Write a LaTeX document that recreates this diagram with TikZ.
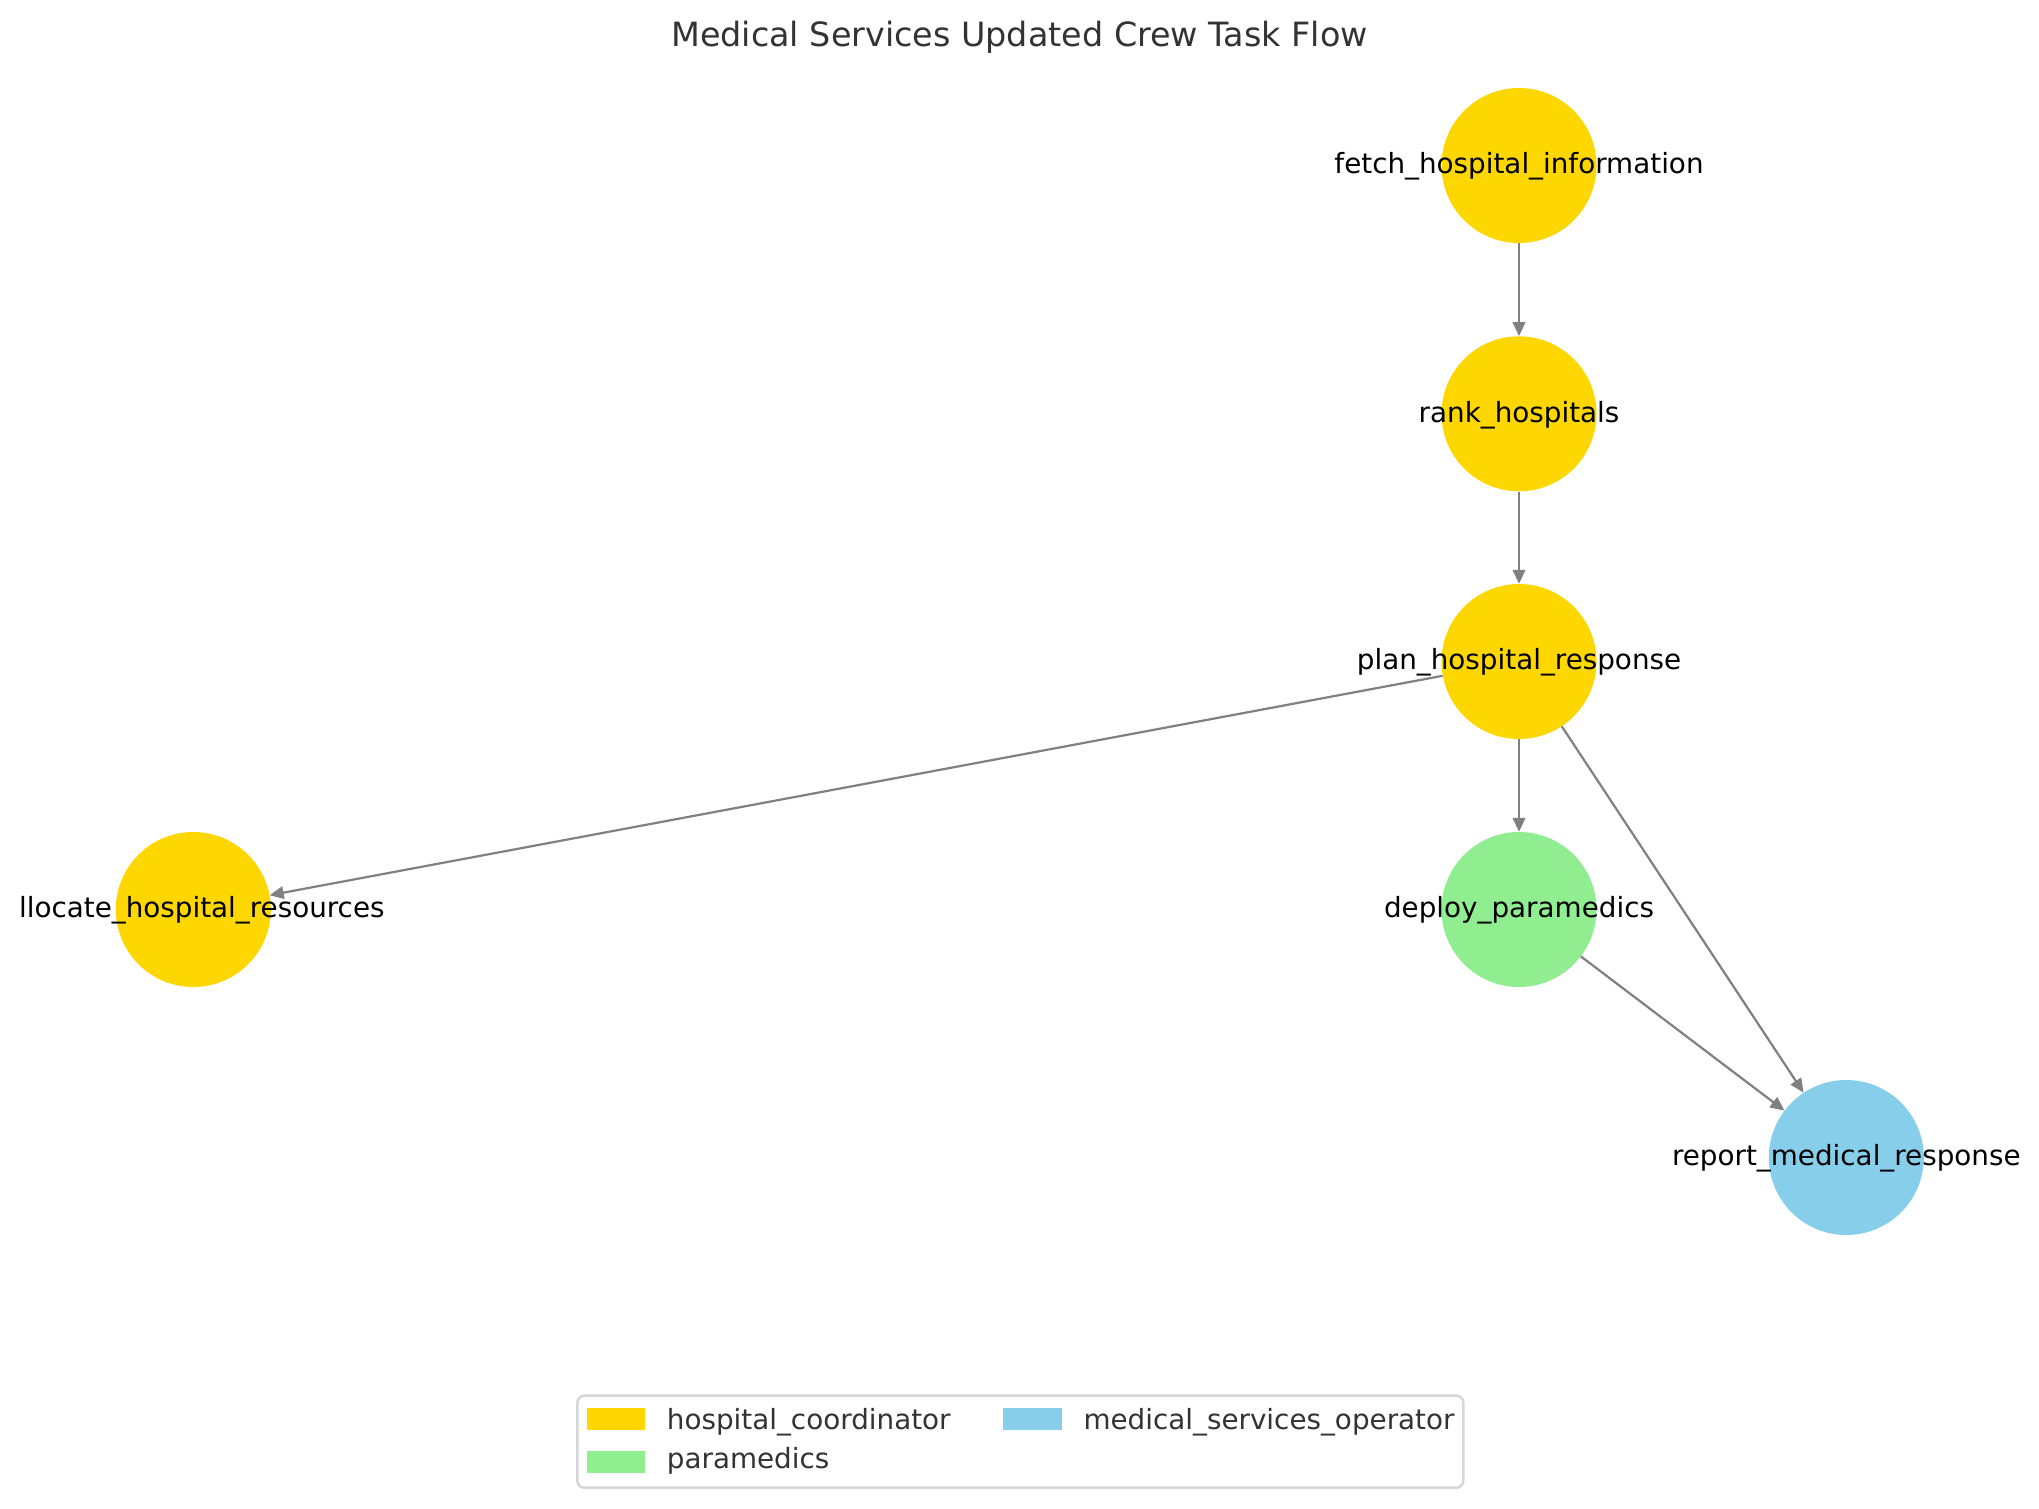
\documentclass[tikz,border=0pt]{standalone}
\usepackage{fontspec}
\setmainfont{DejaVu Sans}
\usetikzlibrary{arrows.meta}
\definecolor{gold}{HTML}{FFD700}
\definecolor{lgreen}{HTML}{90EE90}
\definecolor{skyb}{HTML}{87CEEB}
\definecolor{edgegray}{HTML}{808080}
\definecolor{txtgray}{HTML}{333333}
\definecolor{framegray}{HTML}{D6D6D6}
\begin{document}
\begin{tikzpicture}[x=1pt,y=-1pt,
  task/.style={circle, minimum size=155pt, inner sep=0pt, draw=none},
  lbl/.style={anchor=base, font=\fontsize{27.8}{33}\selectfont, text=black, inner sep=0pt},
  edge/.style={draw=edgegray, line width=2.2pt, -{Triangle[length=14pt,width=12.5pt]}},
  leg/.style={anchor=base west, font=\fontsize{27.8}{33}\selectfont, text=txtgray, inner sep=0pt},
  patch/.style={inner sep=0pt, minimum width=58.3pt, minimum height=22pt, draw=none}]
\useasboundingbox (0,0) rectangle (2039,1508);
\fill[white] (0,0) rectangle (2039,1508);
% title
\node[anchor=base, font=\fontsize{33.4}{40}\selectfont, text=txtgray, inner sep=0pt] (title) at (1019.5,46) {Medical Services Updated Crew Task Flow};
% task nodes
\node[task, fill=gold] (fetch) at (1519,165.5) {};
\node[task, fill=gold] (rank) at (1519,413.8) {};
\node[task, fill=gold] (plan) at (1519,661.5) {};
\node[task, fill=gold] (alloc) at (193.3,909.5) {};
\node[task, fill=lgreen] (deploy) at (1519,909.5) {};
\node[task, fill=skyb] (report) at (1846.3,1157.5) {};
% edges
\draw[edge] (fetch) -- (rank);
\draw[edge] (rank) -- (plan);
\draw[edge] (plan) -- (alloc);
\draw[edge] (plan) -- (deploy);
\draw[edge] (plan) -- (report);
\draw[edge] (deploy) -- (report);
% labels
\node[lbl] (fetchl) at (1519,173.7) {fetch\_hospital\_information};
\node[lbl] (rankl) at (1519,422) {rank\_hospitals};
\node[lbl] (planl) at (1519,669.5) {plan\_hospital\_response};
\node[lbl] (allocl) at (193.3,917.5) {\phantom{a}llocate\_hospital\_resources};
\node[lbl] (deployl) at (1519,917.5) {deploy\_paramedics};
\node[lbl] (reportl) at (1846.3,1165.3) {report\_medical\_response};
% legend
\draw[framegray, fill=white, line width=2.5pt, rounded corners=7pt] (577.3,1395.7) rectangle (1463.3,1487.7);
\node[patch, fill=gold, anchor=north west] (p1) at (586.7,1407.7) {};
\node[patch, fill=lgreen, anchor=north west] (p2) at (586.7,1450.3) {};
\node[patch, fill=skyb, anchor=north west] (p3) at (1003.2,1407.7) {};
\node[leg] (t1) at (666.7,1429.3) {hospital\_coordinator};
\node[leg] (t2) at (666.7,1468) {paramedics};
\node[leg] (t3) at (1083.3,1429.3) {medical\_services\_operator};
\end{tikzpicture}
\end{document}
